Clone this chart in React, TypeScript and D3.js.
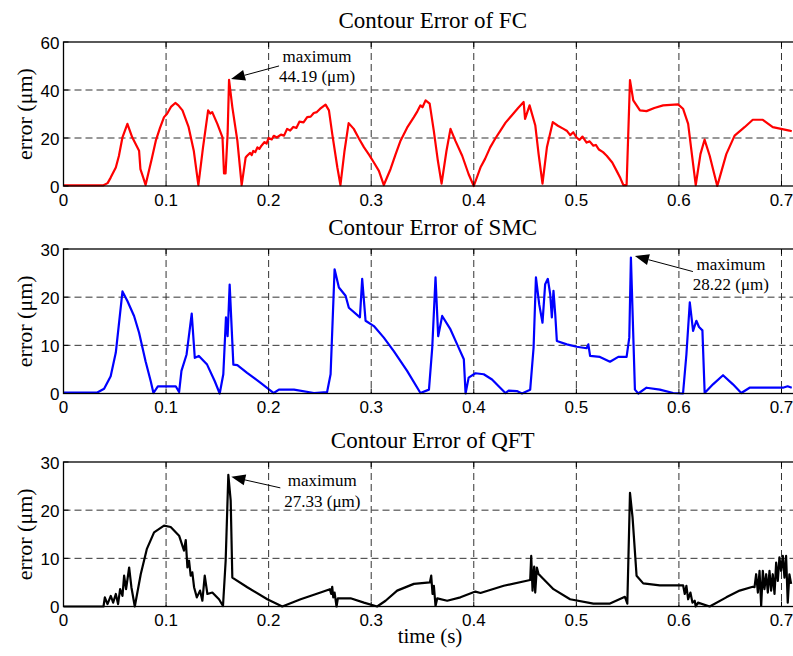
import * as d3 from 'd3';

// time (s) / error (um) pairs
const fcData: [number, number][] = [
  [0, 0.3], [0.039, 0.3], [0.043, 1.2], [0.046, 3.5], [0.051, 7.7], [0.054, 12.5], [0.0575, 20.3],
  [0.0623, 25.9], [0.067, 20.3], [0.0737, 14.7], [0.075, 7], [0.078, 3.2], [0.08, 0.4], [0.0825, 4.9],
  [0.086, 11.2], [0.09, 18.9], [0.094, 24.1], [0.098, 28.7], [0.101, 30.1], [0.105, 33.1], [0.109, 34.6],
  [0.112, 33.6], [0.116, 31.5], [0.122, 24.5], [0.127, 14.7], [0.1315, 0.4], [0.136, 16],
  [0.141, 31.5], [0.143, 30.2], [0.145, 30.8], [0.15, 25.9], [0.155, 20.3], [0.1565, 5.2], [0.158, 5.2],
  [0.16, 21.7], [0.1614, 44.19], [0.1646, 32.9], [0.1695, 18.9], [0.1737, 0.4], [0.1776, 11.9],
  [0.179, 12.6], [0.182, 13.8], [0.1835, 12.9], [0.185, 14.6], [0.187, 14.1], [0.189, 16.1],
  [0.191, 15.5], [0.193, 16.8], [0.196, 18.3], [0.198, 17.7], [0.2, 20], [0.203, 19.4], [0.205, 20.9],
  [0.208, 20.2], [0.212, 21.4], [0.215, 21], [0.218, 23.8], [0.221, 23.1], [0.224, 24.6], [0.227, 24.2],
  [0.23, 26.8], [0.234, 26.5], [0.2376, 28.7], [0.241, 28.9], [0.244, 30.4], [0.247, 30.8], [0.25, 32.1],
  [0.2555, 33.9], [0.2588, 31.5], [0.262, 21.7], [0.267, 7.7], [0.27, 0.4], [0.274, 14.7], [0.278, 26.2],
  [0.283, 23.8], [0.288, 19.8], [0.293, 16.1], [0.298, 13], [0.3026, 9.8], [0.3075, 6.3], [0.3123, 0.4],
  [0.3188, 7], [0.3235, 12.9], [0.3286, 18.9], [0.335, 24.3], [0.3416, 28.7], [0.345, 31.1], [0.348, 33.6],
  [0.35, 32.8], [0.353, 35.7], [0.357, 34.3], [0.361, 23.1], [0.365, 10.5], [0.3686, 1], [0.3734, 14.7],
  [0.3773, 23.8], [0.382, 18.9], [0.3887, 12.6], [0.395, 4.9], [0.4, 0], [0.4065, 7.7], [0.411, 11.3],
  [0.416, 16.1], [0.421, 19.8], [0.426, 23.1], [0.431, 26.4], [0.437, 29.4], [0.443, 32.4], [0.4486, 35],
  [0.45, 28], [0.4544, 33.6], [0.46, 25.2], [0.4632, 13.3], [0.467, 1], [0.4713, 16.1], [0.477, 26.6],
  [0.482, 25.1], [0.4875, 23.8], [0.491, 22.9], [0.494, 21.2], [0.497, 22.4], [0.5, 20.3], [0.503, 19.2],
  [0.506, 20.6], [0.51, 18.1], [0.513, 18.6], [0.5166, 16.8], [0.519, 17.1], [0.522, 15.2], [0.526, 14.1],
  [0.5296, 12.6], [0.535, 9.8], [0.5393, 6.3], [0.543, 3.2], [0.5458, 0.4], [0.549, 0.4], [0.5523, 44.1],
  [0.5555, 35.7], [0.562, 31.5], [0.5684, 31.2], [0.576, 32.5], [0.5846, 33.6], [0.5992, 34], [0.604, 32.2],
  [0.609, 25.9], [0.6122, 14.7], [0.6164, 0.4], [0.621, 13.3], [0.625, 19.3], [0.63, 12.6],
  [0.6345, 4.9], [0.6374, 0], [0.6397, 3.5], [0.6462, 13.3], [0.6543, 21], [0.664, 24.5],
  [0.672, 27.6], [0.6818, 27.6], [0.6915, 24.5], [0.7077, 23.1], [0.71, 22.8],
];

const smcData: [number, number][] = [
  [0, 0.2], [0.033, 0.2], [0.0396, 1], [0.046, 3.6], [0.051, 8.5], [0.0575, 21.2], [0.0623, 19.2],
  [0.0688, 16.1], [0.0737, 12.6], [0.08, 6.7], [0.085, 2.6], [0.0877, 0.1], [0.092, 1.5],
  [0.1094, 1.5], [0.1127, 0.3], [0.115, 4.7], [0.12, 8.1], [0.125, 16.6], [0.128, 7.4], [0.132, 7.8],
  [0.14, 6], [0.1474, 2.6], [0.1523, 0], [0.1558, 4], [0.1584, 15.8], [0.16, 11.9], [0.162, 22.6],
  [0.1656, 6], [0.1695, 5.9], [0.179, 4.3], [0.1922, 2.2], [0.205, 0.1], [0.21, 0.8], [0.2247, 0.8],
  [0.2442, 0.1], [0.257, 0.3], [0.2604, 4], [0.2643, 25.8], [0.2685, 22], [0.275, 20.3],
  [0.2782, 17.8], [0.289, 15.8], [0.2912, 23.8], [0.2945, 15.1], [0.3026, 14], [0.3123, 11.6],
  [0.322, 8.8], [0.335, 4.7], [0.348, 0.1], [0.3563, 0.8], [0.3595, 9.5], [0.3627, 24.1],
  [0.3653, 11.9], [0.3692, 16.1], [0.3773, 13.3], [0.3838, 10.2], [0.3903, 7.1], [0.392, 0],
  [0.395, 3.3], [0.4016, 4.2], [0.4097, 4], [0.4178, 2.9], [0.4243, 1.5], [0.4308, 0.1], [0.434, 0.6],
  [0.442, 0.5], [0.447, 0], [0.455, 0.8], [0.4583, 9.5], [0.4606, 24.1], [0.4638, 18.5], [0.467, 14.7],
  [0.4696, 22.7], [0.4722, 23.8], [0.4745, 20.6], [0.4761, 15.8], [0.4777, 21.3], [0.4794, 16.5],
  [0.481, 10.9], [0.4907, 10.2], [0.5004, 9.7], [0.51, 9.4], [0.5117, 10.2], [0.5134, 7.8],
  [0.523, 7.6], [0.5328, 6.6], [0.5409, 7.6], [0.549, 7.6], [0.5516, 11.6], [0.5532, 28.22],
  [0.5571, 0.8], [0.5604, 0], [0.5684, 1.2], [0.5814, 0.8], [0.5944, 0.1], [0.604, 0], [0.6073, 8.1],
  [0.6106, 18.9], [0.6138, 13], [0.617, 15.1], [0.6196, 13.8], [0.6229, 13.1], [0.6251, 0.1],
  [0.6332, 1.9], [0.643, 3.8], [0.6527, 1.9], [0.6608, 0.1], [0.6689, 1.2], [0.7013, 1.2],
  [0.706, 1.5], [0.71, 1.2],
];

const qftData: [number, number][] = [
  [0, 0], [0.039, 0], [0.0403, 1.9], [0.0429, 0.5], [0.0461, 2.2], [0.0484, 0.8], [0.051, 2.6],
  [0.0532, 0.5], [0.0552, 3.6], [0.0575, 2.2], [0.0591, 6.4], [0.061, 3.6], [0.064, 8.1], [0.0662, 4],
  [0.0695, 0], [0.0753, 6.7], [0.0812, 11.9], [0.0883, 15.4], [0.098, 16.8], [0.1045, 16.5],
  [0.1127, 14.7], [0.1175, 11.6], [0.1192, 13.8], [0.1208, 8.1], [0.1224, 9.5], [0.124, 6.4],
  [0.1256, 7.1], [0.1273, 4], [0.13, 1.9], [0.1331, 3.3], [0.1354, 1.2], [0.1377, 6.4], [0.1403, 2.6],
  [0.1451, 2.9], [0.1516, 1.5], [0.1555, 0.1], [0.1581, 9.5], [0.1607, 27.33], [0.163, 22],
  [0.1646, 6], [0.1792, 4], [0.1987, 1.5], [0.2133, 0], [0.2312, 1.5], [0.2506, 2.9], [0.2597, 3.6],
  [0.261, 2.6], [0.262, 4.1], [0.263, 1.9], [0.2643, 2.9], [0.2662, 0], [0.2675, 1.7], [0.2799, 1.7],
  [0.2929, 0.8], [0.3058, 0], [0.314, 1.2], [0.3253, 3.3], [0.3416, 4.7], [0.3572, 5], [0.3585, 6.4],
  [0.3598, 2.6], [0.3611, 4.3], [0.3627, 0.1], [0.3644, 1.7], [0.3741, 1.2], [0.387, 1.9],
  [0.4016, 3.1], [0.4065, 2.8], [0.4292, 4.3], [0.455, 5.5], [0.456, 10.5], [0.4573, 3.3],
  [0.4589, 8.3], [0.4599, 2.9], [0.4615, 8.1], [0.4632, 6.7], [0.4648, 6.4], [0.4777, 3.6],
  [0.4939, 1.5], [0.5166, 0.6], [0.5328, 0.6], [0.5474, 2], [0.5497, 0.6], [0.5523, 23.6],
  [0.5548, 18.5], [0.5587, 6.4], [0.5652, 4.8], [0.5814, 4.4], [0.6041, 4.4], [0.6057, 2.6],
  [0.6073, 4.3], [0.609, 1.5], [0.6112, 2.9], [0.6132, 0.8], [0.6154, 1.2], [0.6164, 0], [0.6186, 0.8],
  [0.63, 0], [0.6462, 1.9], [0.6592, 3.3], [0.672, 4.1], [0.6737, 4], [0.6753, 6.7], [0.677, 2.9],
  [0.6786, 7.4], [0.6802, 0.1], [0.6818, 7.4], [0.6834, 3.6], [0.6851, 6.7], [0.6867, 2.9],
  [0.6883, 7.4], [0.6899, 3.3], [0.6915, 6.7], [0.6932, 2.6], [0.6948, 9.1], [0.6964, 5.3],
  [0.698, 10.2], [0.6996, 7.4], [0.7013, 10.5], [0.7029, 6], [0.7045, 10.5], [0.7061, 0.8],
  [0.7077, 6.7], [0.7094, 4.7],
];

const xTicks = [0, 0.1, 0.2, 0.3, 0.4, 0.5, 0.6, 0.7];
const fcTicks = [0, 20, 40, 60];
const smallTicks = [0, 10, 20, 30];

const panels = [
  { title: 'Contour Error of FC', data: fcData, yMax: 60, ticks: fcTicks, color: '#ff0000', max: '44.19',
    top: 42, bottom: 186, ann: { tip: [2, -1], tail: [50, -14], text: [88, -18, 2] } },
  { title: 'Contour Error of SMC', data: smcData, yMax: 30, ticks: smallTicks, color: '#0000ff', max: '28.22',
    top: 249, bottom: 393.5, ann: { tip: [4, -1.5], tail: [62, 14], text: [100, 12, 32] } },
  { title: 'Contour Error of QFT', data: qftData, yMax: 30, ticks: smallTicks, color: '#000000', max: '27.33',
    top: 462, bottom: 606.5, ann: { tip: [3, 2], tail: [52, 13], text: [94, 11, 32] } },
];

const left = 63.5;
const right = 802;
const serif = '"Liberation Serif", "Times New Roman", serif';
const sans = '"Liberation Sans", Arial, sans-serif';

const x = d3.scaleLinear().domain([0, 0.72]).range([left, right]);

function Panel({ p }: { p: typeof panels[number] }) {
  const y = d3.scaleLinear().domain([0, p.yMax]).range([p.bottom, p.top]);
  const line = d3.line<[number, number]>().x(d => x(d[0])).y(d => y(d[1]));
  const peak = p.data.reduce((a, b) => (b[1] > a[1] ? b : a));
  const px = x(peak[0]);
  const py = y(peak[1]);
  const tip = [px + p.ann.tip[0], py + p.ann.tip[1]];
  const tail = [px + p.ann.tail[0], py + p.ann.tail[1]];
  const ang = Math.atan2(tail[1] - tip[1], tail[0] - tip[0]);
  const hl = 14, hw = 5.5;
  const bx = tip[0] + hl * Math.cos(ang), by = tip[1] + hl * Math.sin(ang);
  const head = [
    tip,
    [bx - hw * Math.sin(ang), by + hw * Math.cos(ang)],
    [bx + hw * Math.sin(ang), by - hw * Math.cos(ang)],
  ];
  const cy = (p.top + p.bottom) / 2;
  return (
    <g>
      <text x={(left + right) / 2} y={p.top - 14} textAnchor="middle" fontFamily={serif} fontSize={23}>{p.title}</text>
      {/* grid */}
      {xTicks.slice(1).map(t => (
        <line key={'gx' + t} x1={x(t)} x2={x(t)} y1={p.top} y2={p.bottom} stroke="#333" strokeWidth={1} strokeDasharray="7,4" />
      ))}
      {p.ticks.slice(1, -1).map(t => (
        <line key={'gy' + t} x1={left} x2={right} y1={y(t)} y2={y(t)} stroke="#333" strokeWidth={1} strokeDasharray="7,4" />
      ))}
      <path d={line(p.data) || ''} fill="none" stroke={p.color} strokeWidth={2.2} strokeLinejoin="round" />
      {/* frame and ticks */}
      <rect x={left} y={p.top} width={right - left} height={p.bottom - p.top} fill="none" stroke="#000" strokeWidth={1.3} />
      {xTicks.map(t => (
        <g key={'tx' + t}>
          <line x1={x(t)} x2={x(t)} y1={p.bottom} y2={p.bottom - 5} stroke="#000" />
          <line x1={x(t)} x2={x(t)} y1={p.top} y2={p.top + 5} stroke="#000" />
          <text x={x(t)} y={p.bottom + 19.5} textAnchor="middle" fontFamily={sans} fontSize={17}>{t}</text>
        </g>
      ))}
      {p.ticks.map(t => (
        <g key={'ty' + t}>
          <line x1={left} x2={left + 5} y1={y(t)} y2={y(t)} stroke="#000" />
          <text x={left - 4} y={y(t) + 6.5} textAnchor="end" fontFamily={sans} fontSize={17}>{t}</text>
        </g>
      ))}
      <text transform={`translate(32,${cy}) rotate(-90)`} textAnchor="middle" fontFamily={serif} fontSize={22}>error (μm)</text>
      {/* annotation */}
      <line x1={tail[0]} y1={tail[1]} x2={bx} y2={by} stroke="#000" strokeWidth={1} />
      <polygon points={head.map(d => d.join(',')).join(' ')} fill="#000" />
      <text x={px + p.ann.text[0]} y={py + p.ann.text[1]} textAnchor="middle" fontFamily={serif} fontSize={17}>maximum</text>
      <text x={px + p.ann.text[0]} y={py + p.ann.text[2]} textAnchor="middle" fontFamily={serif} fontSize={17}>{p.max} (μm)</text>
    </g>
  );
}

export default function App() {
  return (
    <svg width={793} height={656} style={{ position: 'absolute', left: 0, top: 0, background: '#fff' }}>
      <rect width={793} height={656} fill="#fff" />
      {panels.map(p => <Panel key={p.title} p={p} />)}
      <text x={430} y={643} textAnchor="middle" fontFamily={serif} fontSize={21}>time (s)</text>
    </svg>
  );
}
